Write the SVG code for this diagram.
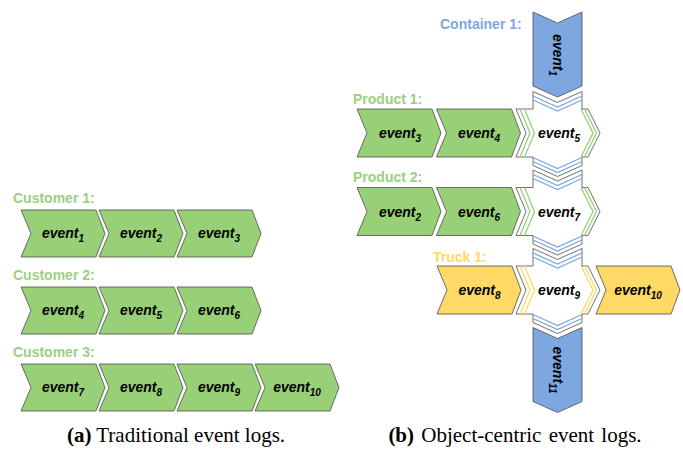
<svg xmlns="http://www.w3.org/2000/svg" xmlns:xlink="http://www.w3.org/1999/xlink" width="683" height="449" viewBox="0 0 683 449">
<style>
.g{fill:#97D077;stroke:#4d4d4d;stroke-width:0.8}
.b{fill:#7EA6E0;stroke:#4d4d4d;stroke-width:0.8}
.y{fill:#FFD966;stroke:#4d4d4d;stroke-width:0.8}
.w{fill:#ffffff;stroke:#4d4d4d;stroke-width:0.8}
.gl{fill:none;stroke:#97D077;stroke-width:1.3}
.bl{fill:none;stroke:#7EA6E0;stroke-width:1.3}
.yl{fill:none;stroke:#FFD966;stroke-width:1.3}
.lbl{font-family:"Liberation Sans",Arial,sans-serif;font-weight:bold;font-size:14px}
.ev{font-family:"Liberation Sans",Arial,sans-serif;font-weight:bold;font-style:italic;font-size:14px;text-anchor:middle;fill:#000}
.sub{font-size:10px}
.cap{font-family:"Liberation Serif","Times New Roman",serif;font-size:21px;text-anchor:middle;fill:#000}
</style>
<defs>
<path id="hs" d="M0,0 H75 L84,23.5 L75,47 H0 L10,23.5 Z"/>
<path id="hl" d="M0,0 H75 L84,24 L75,48 H0 L10,24 Z"/>
<path id="vc" d="M0,0 L24.5,11 L49,0 V74 L24.5,85 L0,74 Z"/>
<path id="cross" d="M0,17.5 H17 V0 L41.5,11 L66,0 V17.5 H72 L84,41.5 L72,65.5 H66 V74 L41.5,85 L17,74 V65.5 H0 L10,41.5 Z"/>
<path id="lh" d="M4,17.5 L14,41.5 L4,65.5 M8.5,17.5 L18.5,41.5 L8.5,65.5 M68.5,17.5 L80.5,41.5 L68.5,65.5 M65,17.5 L77,41.5 L65,65.5"/>
<path id="lv" d="M17,4.5 L41.5,15.5 L66,4.5 M17,8.5 L41.5,19.5 L66,8.5 M17,70 L41.5,81 L66,70 M17,66 L41.5,77 L66,66"/>
</defs>

<!-- (a) Traditional event logs -->
<g id="customer1">
<text class="lbl" x="13" y="203" fill="#9CCF82">Customer 1:</text>
<g id="a-event1"><use href="#hs" x="21" y="210" class="g"/><text class="ev" x="63" y="238">event<tspan class="sub" dy="4">1</tspan></text></g>
<g id="a-event2"><use href="#hs" x="99" y="210" class="g"/><text class="ev" x="141" y="238">event<tspan class="sub" dy="4">2</tspan></text></g>
<g id="a-event3"><use href="#hs" x="177" y="210" class="g"/><text class="ev" x="219" y="238">event<tspan class="sub" dy="4">3</tspan></text></g>
</g>
<g id="customer2">
<text class="lbl" x="13" y="280" fill="#9CCF82">Customer 2:</text>
<g id="a-event4"><use href="#hs" x="21" y="287" class="g"/><text class="ev" x="63" y="315">event<tspan class="sub" dy="4">4</tspan></text></g>
<g id="a-event5"><use href="#hs" x="99" y="287" class="g"/><text class="ev" x="141" y="315">event<tspan class="sub" dy="4">5</tspan></text></g>
<g id="a-event6"><use href="#hs" x="177" y="287" class="g"/><text class="ev" x="219" y="315">event<tspan class="sub" dy="4">6</tspan></text></g>
</g>
<g id="customer3">
<text class="lbl" x="13" y="357" fill="#9CCF82">Customer 3:</text>
<g id="a-event7"><use href="#hs" x="21" y="364" class="g"/><text class="ev" x="63" y="392">event<tspan class="sub" dy="4">7</tspan></text></g>
<g id="a-event8"><use href="#hs" x="99" y="364" class="g"/><text class="ev" x="141" y="392">event<tspan class="sub" dy="4">8</tspan></text></g>
<g id="a-event9"><use href="#hs" x="177" y="364" class="g"/><text class="ev" x="219" y="392">event<tspan class="sub" dy="4">9</tspan></text></g>
<g id="a-event10"><use href="#hs" x="255" y="364" class="g"/><text class="ev" x="297" y="392">event<tspan class="sub" dy="4">10</tspan></text></g>
</g>

<!-- (b) Object-centric event logs -->
<g id="labels-b">
<text class="lbl" x="440" y="29" fill="#7EA6E0">Container 1:</text>
<text class="lbl" x="353" y="104" fill="#9CCF82">Product 1:</text>
<text class="lbl" x="353" y="182" fill="#9CCF82">Product 2:</text>
<text class="lbl" x="433" y="262" fill="#FFD966">Truck 1:</text>
</g>
<g id="b-event1"><use href="#vc" x="533" y="12" class="b"/><text class="ev" transform="translate(558,55) rotate(90)" x="0" y="5">event<tspan class="sub" dy="4">1</tspan></text></g>
<g id="b-event3"><use href="#hl" x="357" y="109" class="g"/><text class="ev" x="400" y="138">event<tspan class="sub" dy="4">3</tspan></text></g>
<g id="b-event4"><use href="#hl" x="436.5" y="109" class="g"/><text class="ev" x="479" y="138">event<tspan class="sub" dy="4">4</tspan></text></g>
<g id="b-event5"><use href="#cross" x="516" y="91.5" class="w"/><use href="#lh" x="516" y="91.5" class="gl"/><use href="#lv" x="516" y="91.5" class="bl"/><text class="ev" x="559" y="138">event<tspan class="sub" dy="4">5</tspan></text></g>
<g id="b-event2"><use href="#hl" x="357" y="187.5" class="g"/><text class="ev" x="400" y="216.5">event<tspan class="sub" dy="4">2</tspan></text></g>
<g id="b-event6"><use href="#hl" x="436.5" y="187.5" class="g"/><text class="ev" x="479" y="216.5">event<tspan class="sub" dy="4">6</tspan></text></g>
<g id="b-event7"><use href="#cross" x="516" y="170" class="w"/><use href="#lh" x="516" y="170" class="gl"/><use href="#lv" x="516" y="170" class="bl"/><text class="ev" x="559" y="216.5">event<tspan class="sub" dy="4">7</tspan></text></g>
<g id="b-event8"><use href="#hl" x="437" y="266" class="y"/><text class="ev" x="479.5" y="295">event<tspan class="sub" dy="4">8</tspan></text></g>
<g id="b-event9"><use href="#cross" x="516" y="248.5" class="w"/><use href="#lh" x="516" y="248.5" class="yl"/><use href="#lv" x="516" y="248.5" class="bl"/><text class="ev" x="559" y="295">event<tspan class="sub" dy="4">9</tspan></text></g>
<g id="b-event10"><use href="#hl" x="596" y="266" class="y"/><text class="ev" x="638" y="295">event<tspan class="sub" dy="4">10</tspan></text></g>
<g id="b-event11"><use href="#vc" x="533" y="327.5" class="b"/><text class="ev" transform="translate(558,370) rotate(90)" x="0" y="5">event<tspan class="sub" dy="4">11</tspan></text></g>

<g id="connectors"></g>

<g id="captions">
<text class="cap" x="176" y="442"><tspan font-weight="bold">(a)</tspan> Traditional event logs.</text>
<text class="cap" x="515" y="442" word-spacing="2"><tspan font-weight="bold">(b)</tspan> Object-centric event logs.</text>
</g>
</svg>
